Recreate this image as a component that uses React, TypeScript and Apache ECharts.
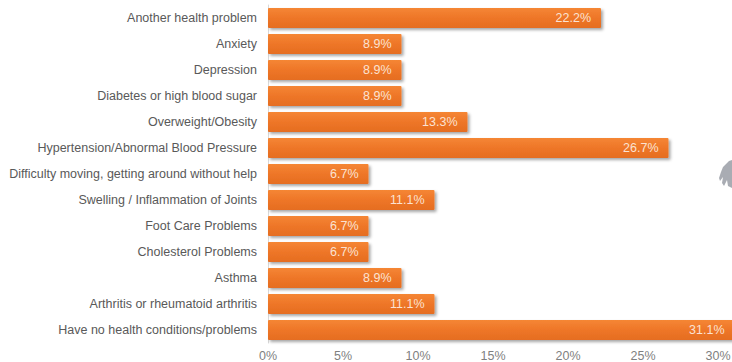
import React, { useEffect, useRef } from "react";
import * as echarts from "echarts";

const categories = [
  "Another health problem",
  "Anxiety",
  "Depression",
  "Diabetes or high blood sugar",
  "Overweight/Obesity",
  "Hypertension/Abnormal Blood Pressure",
  "Difficulty moving, getting around without help",
  "Swelling / Inflammation of Joints",
  "Foot Care Problems",
  "Cholesterol Problems",
  "Asthma",
  "Arthritis or rheumatoid arthritis",
  "Have no health conditions/problems",
];
const values = [22.2, 8.9, 8.9, 8.9, 13.3, 26.7, 6.7, 11.1, 6.7, 6.7, 8.9, 11.1, 31.1];
const axisMin = 0;
const axisMax = 35;
const axisInterval = 5;

export default function App() {
  const ref = useRef<HTMLDivElement>(null);
  useEffect(() => {
    if (!ref.current) return;
    const chart = echarts.init(ref.current, undefined, { renderer: "svg" });
    const font = "'Liberation Sans', Arial, sans-serif";
    chart.setOption({
      animation: false,
      backgroundColor: "#ffffff",
      grid: {
        left: 268,
        width: 525,
        top: 5,
        height: 338,
        containLabel: false,
        outerBoundsMode: "none",
      },
      xAxis: {
        type: "value",
        min: axisMin,
        max: axisMax,
        interval: axisInterval,
        axisLine: { show: false },
        axisTick: { show: false },
        splitLine: { show: false },
        axisLabel: {
          formatter: "{value}%",
          color: "#7f7f7f",
          fontSize: 12.5,
          fontFamily: font,
          margin: 6,
        },
      },
      yAxis: {
        type: "category",
        data: categories,
        inverse: true,
        axisLine: { show: true, lineStyle: { color: "#d9d9d9", width: 1 } },
        axisTick: { show: false },
        axisLabel: {
          color: "#595959",
          fontSize: 12.5,
          fontFamily: font,
          margin: 11,
        },
      },
      series: [
        {
          type: "bar",
          data: values,
          barWidth: 20,
          itemStyle: {
            color: new echarts.graphic.LinearGradient(0, 0, 0, 1, [
              { offset: 0, color: "#F58634" },
              { offset: 0.5, color: "#EE7628" },
              { offset: 1, color: "#E56D20" },
            ]),
            borderRadius: 1,
            shadowColor: "rgba(0,0,0,0.35)",
            shadowBlur: 3,
            shadowOffsetX: 2,
            shadowOffsetY: 2,
          },
          label: {
            show: true,
            position: "insideRight",
            distance: 10,
            formatter: "{c}%",
            color: "#FBE2D2",
            fontSize: 12.5,
            fontFamily: font,
          },
        },
      ],
      graphic: [
        {
          type: "polygon",
          shape: {
            points: [
              [732, 160], [729, 161], [723, 167], [721, 172], [719, 178],
              [720, 181], [723, 177], [722, 183], [724, 186], [727, 180],
              [728, 186], [732, 188],
            ],
          },
          style: { fill: "#9a9ea6", opacity: 0.85 },
        },
      ],
    });
    return () => chart.dispose();
  }, []);
  return (
    <div
      style={{
        position: "fixed",
        left: 0,
        top: 0,
        width: 732,
        height: 362,
        overflow: "hidden",
        background: "#fff",
      }}
    >
      <div ref={ref} style={{ width: 800, height: 362 }} />
    </div>
  );
}
